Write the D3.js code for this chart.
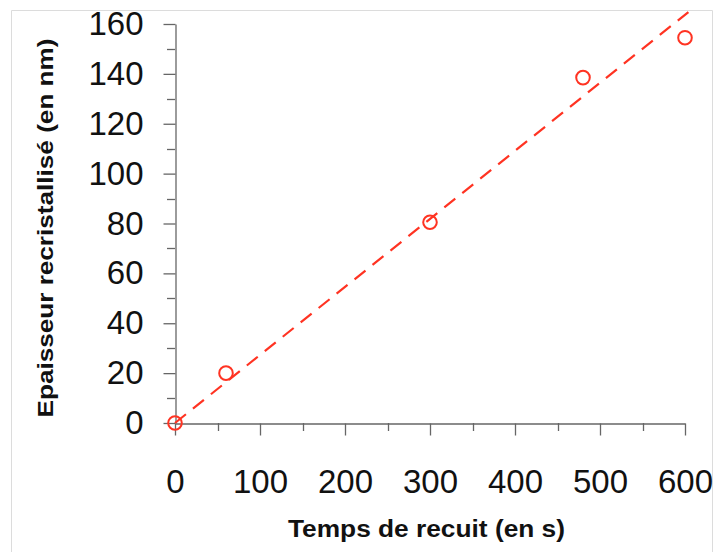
<!DOCTYPE html>
<html><head><meta charset="utf-8">
<script src="https://cdn.jsdelivr.net/npm/d3@7"></script>
<style>body{margin:0;background:#fff;}svg{display:block;font-family:"Liberation Sans",Arial,sans-serif;}</style>
</head><body>
<svg id="c" width="716" height="552"></svg>
<script>
const times = [0, 60, 300, 480, 600];
const thickness = [0, 20, 80.5, 138.5, 154.5];
const fitLine = [[0, 0], [604, 164.8]];
const xTicks = [0, 100, 200, 300, 400, 500, 600];
const yTicks = [0, 20, 40, 60, 80, 100, 120, 140, 160];
const xTitle = "Temps de recuit (en s)";
const yTitle = "Epaisseur recristallisé (en nm)";

const svg = d3.select("#c");
const x = d3.scaleLinear().domain([0, 600]).range([175, 685]);
const y = d3.scaleLinear().domain([0, 160]).range([423, 24]);

// frame
svg.append("path").attr("d","M11.5,552 V10.5 H712.5 V552").attr("fill","none").attr("stroke","#dcdcdc").attr("stroke-width",1);

const axisCol = "#666";
// minor ticks
const yMinor = d3.range(10, 160, 20);
svg.append("g").selectAll("line").data(yMinor).join("line")
  .attr("x1", 167).attr("x2", 175).attr("y1", d => Math.round(y(d))+0.5).attr("y2", d => Math.round(y(d))+0.5)
  .attr("stroke", axisCol).attr("stroke-width", 1.3);
const xMinor = d3.range(50, 600, 100);
svg.append("g").selectAll("line").data(xMinor).join("line")
  .attr("y1", 423).attr("y2", 431).attr("x1", d => Math.round(x(d))+0.5).attr("x2", d => Math.round(x(d))+0.5)
  .attr("stroke", axisCol).attr("stroke-width", 1.3);

// y axis
const yAxis = svg.append("g").attr("transform","translate(175.5,0)")
  .call(d3.axisLeft(y).tickValues(yTicks).tickSize(12).tickSizeOuter(0).tickPadding(20));
yAxis.select(".domain").attr("stroke", axisCol).attr("stroke-width",1.3);
yAxis.selectAll(".tick line").attr("stroke", axisCol).attr("stroke-width",1.3);
yAxis.selectAll(".tick text").attr("font-size", 33).attr("fill","#111").attr("font-family","Liberation Sans, Arial, sans-serif");

// x axis
const xAxis = svg.append("g").attr("transform","translate(0,423.5)")
  .call(d3.axisBottom(x).tickValues(xTicks).tickSize(12).tickSizeOuter(0).tickPadding(34));
xAxis.select(".domain").attr("stroke", axisCol).attr("stroke-width",1.3);
xAxis.selectAll(".tick line").attr("stroke", axisCol).attr("stroke-width",1.3);
xAxis.selectAll(".tick text").attr("font-size", 33).attr("fill","#111").attr("font-family","Liberation Sans, Arial, sans-serif");

// fit line
svg.append("line")
  .attr("x1", x(fitLine[0][0])).attr("y1", y(fitLine[0][1]))
  .attr("x2", x(fitLine[1][0])).attr("y2", y(fitLine[1][1]))
  .attr("stroke", "#ff3322").attr("stroke-width", 2.2).attr("stroke-dasharray", "14,9");

// points
svg.append("g").selectAll("circle").data(times.map((t,i)=>[t,thickness[i]])).join("circle")
  .attr("cx", d => x(d[0])).attr("cy", d => y(d[1])).attr("r", 6.8)
  .attr("fill","none").attr("stroke","#ff3322").attr("stroke-width",2);

// titles
svg.append("text").attr("x", 426.5).attr("y", 537).attr("text-anchor","middle")
  .attr("font-size", 23.5).attr("font-weight","bold").attr("fill","#111")
  .attr("textLength", 277).attr("lengthAdjust","spacingAndGlyphs").text(xTitle);
svg.append("text").attr("transform","translate(53,228) rotate(-90)").attr("text-anchor","middle")
  .attr("font-size", 22.5).attr("font-weight","bold").attr("fill","#111")
  .attr("textLength", 379).attr("lengthAdjust","spacingAndGlyphs").text(yTitle);
</script>
</body></html>
